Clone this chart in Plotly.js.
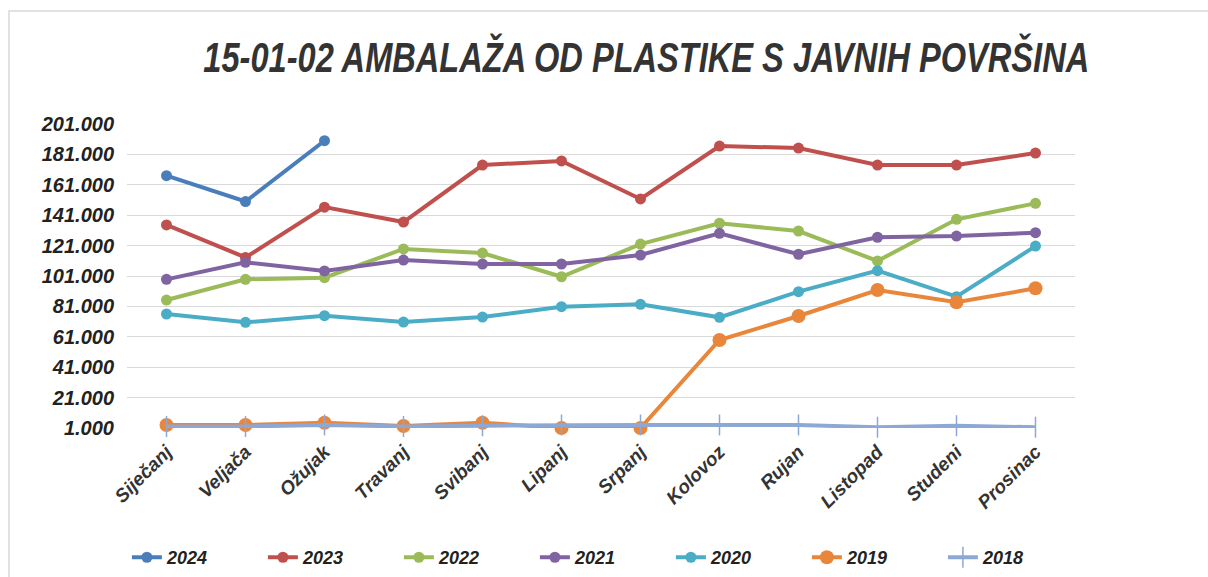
<!DOCTYPE html>
<html>
<head>
<meta charset="utf-8">
<script src="https://cdn.plot.ly/plotly-3.0.1.min.js"></script>
<style>
html,body{margin:0;padding:0;background:#fff;}
#chart{width:1208px;height:577px;}
</style>
</head>
<body>
<div id="chart"></div>
<script>
const months = ['Siječanj','Veljača','Ožujak','Travanj','Svibanj','Lipanj','Srpanj','Kolovoz','Rujan','Listopad','Studeni','Prosinac'];
const y2024 = [167000,150000,190000];
const y2023 = [134600,113200,146300,136500,174000,176700,151700,186500,185200,174000,174000,181900];
const y2022 = [85200,98800,99900,118800,116100,100500,122000,135700,130600,110900,138300,148800];
const y2021 = [98800,110000,104300,111500,108900,108900,114800,129100,115300,126500,127300,129500];
const y2020 = [76000,70500,74900,70700,74000,80800,82400,73800,90700,104500,87400,120700];
const y2019 = [3000,3000,4500,2300,4500,1000,1000,58900,74700,91800,83700,92900];
const y2018 = [2000,2000,3000,2000,2500,3000,3000,3000,3000,1500,2500,1500];
const yTickVals = [1000,21000,41000,61000,81000,101000,121000,141000,161000,181000,201000];
const yTickText = ['1.000','21.000','41.000','61.000','81.000','101.000','121.000','141.000','161.000','181.000','201.000'];

const series = [
  {name:'2024', y:y2024, color:'#4A7EBB', msize:11, sym:'circle'},
  {name:'2023', y:y2023, color:'#C0504D', msize:11, sym:'circle'},
  {name:'2022', y:y2022, color:'#9BBB59', msize:11, sym:'circle'},
  {name:'2021', y:y2021, color:'#8064A2', msize:11, sym:'circle'},
  {name:'2020', y:y2020, color:'#4BACC6', msize:11, sym:'circle'},
  {name:'2019', y:y2019, color:'#E8873C', msize:14, sym:'circle'},
  {name:'2018', y:y2018, color:'#8EA8D6', msize:15, sym:'line-ns-open'}
];

const font = 'Liberation Sans, Arial, sans-serif';

const traces = series.map(s => ({
  type:'scatter', mode:'lines+markers', name:s.name,
  x: months.slice(0, s.y.length), y: s.y,
  line:{color:s.color, width:4},
  marker:{color:s.color, size:s.msize, symbol:s.sym, line:{color:s.color, width:s.sym==='circle'?0:1.5}},
  cliponaxis:false
}));

const layout = {
  width:1208, height:577,
  paper_bgcolor:'#ffffff', plot_bgcolor:'#ffffff',
  margin:{l:127, r:133, t:124, b:149, autoexpand:false},
  title:{text:'15-01-02 AMBALAŽA OD PLASTIKE S JAVNIH POVRŠINA',
    font:{family:font, size:42, color:'#333333', weight:'bold', style:'italic'},
    x:0.535, xanchor:'center', y:0.9, yanchor:'middle'},
  xaxis:{type:'category', range:[-0.5,11.5], showgrid:false, zeroline:false, showline:false, automargin:false,
    tickangle:-45, ticks:'', ticklabelstandoff:8,
    tickfont:{family:font, size:19, color:'#333333', weight:'bold', style:'italic'}},
  yaxis:{range:[1000,201000], tickvals:yTickVals, ticktext:yTickText, showgrid:true, automargin:false,
    gridcolor:'#d9d9d9', gridwidth:1, zeroline:false, showline:false, ticks:'', ticklabelstandoff:12,
    tickfont:{family:font, size:20, color:'#222222', weight:'bold', style:'italic'}},
  showlegend:true,
  legend:{orientation:'h', x:-0.0001, xanchor:'left', y:-0.487, yanchor:'bottom',
    entrywidth:91, entrywidthmode:'pixels', traceorder:'normal',
    font:{family:font, size:18, color:'#222222', weight:'bold', style:'italic'}},
  shapes:[{type:'rect', xref:'paper', yref:'paper', x0:-0.1245, x1:1.4, y0:-1.0, y1:1.3717,
    line:{color:'#d9d9d9', width:1.5}, fillcolor:'rgba(0,0,0,0)', layer:'below'}]
};

function squeezeTitle(){
  const t = document.querySelector('.gtitle');
  if(!t) return;
  const x = parseFloat(t.getAttribute('x')) || 646;
  const base = (t.getAttribute('data-basetf') !== null) ? t.getAttribute('data-basetf') : (t.getAttribute('transform') || '');
  t.setAttribute('data-basetf', base);
  t.setAttribute('transform', base + ' translate(' + x + ',0) scale(0.776,1) translate(' + (-x) + ',0)');
}

Plotly.newPlot('chart', traces, layout, {displayModeBar:false, responsive:false}).then(gd => {
  squeezeTitle();
  gd.on('plotly_afterplot', squeezeTitle);
});
</script>
</body>
</html>
